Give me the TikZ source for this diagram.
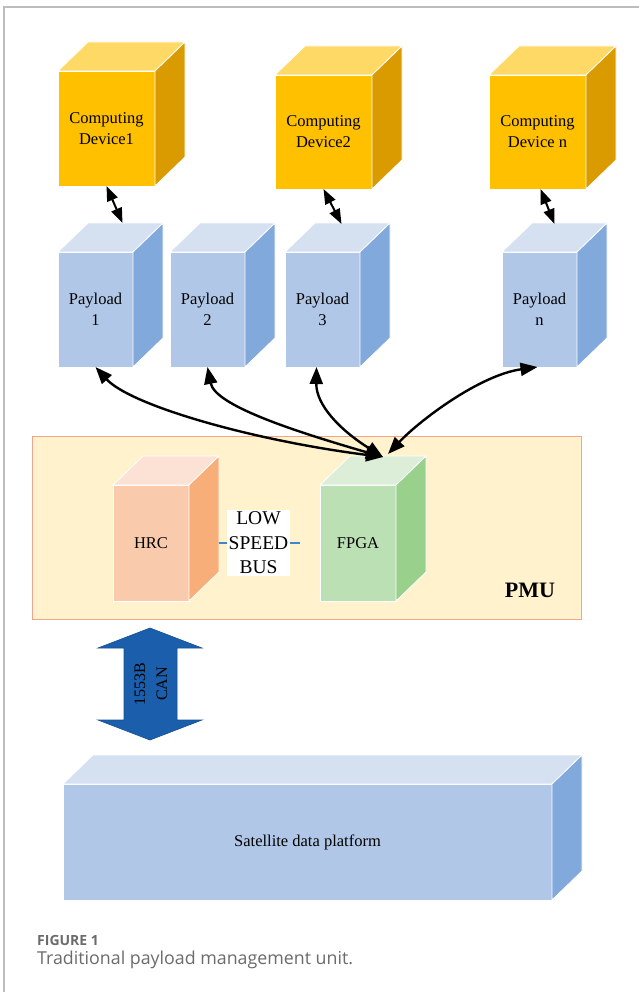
\documentclass[tikz,border=0pt]{standalone}
\usepackage{fontspec}
\setmainfont{Liberation Serif}
\newfontfamily\capfont{Open Sans}
\usetikzlibrary{arrows.meta,calc}

\definecolor{devfront}{HTML}{FFC000}
\definecolor{devtop}{HTML}{FFD966}
\definecolor{devside}{HTML}{D99B00}
\definecolor{plfront}{HTML}{B0C7E8}
\definecolor{pltop}{HTML}{D5E0F1}
\definecolor{plside}{HTML}{82A9DC}
\definecolor{hrcfront}{HTML}{F9CBAC}
\definecolor{hrctop}{HTML}{FCE2D4}
\definecolor{hrcside}{HTML}{F8AE78}
\definecolor{fpfront}{HTML}{BBE0B4}
\definecolor{fptop}{HTML}{DDEED8}
\definecolor{fpside}{HTML}{98D08C}
\definecolor{pmufill}{HTML}{FFF2CC}
\definecolor{pmuline}{HTML}{F4A38C}
\definecolor{busblue}{HTML}{1B5EAB}
\definecolor{linkblue}{HTML}{3B86CF}
\definecolor{framegray}{HTML}{BDBDBD}
\definecolor{capgray}{HTML}{6B6B6B}

\tikzset{
  front/.style={draw=white, line width=0.8pt, inner sep=0pt, outer sep=0pt,
    align=center, font=\fontsize{16.5}{21}\selectfont},
  facet/.style={draw=white, line width=0.8pt, line join=round},
  link/.style={line width=2.4pt,
    {Triangle[length=17pt,width=13pt]}-{Triangle[length=17pt,width=13pt]}},
  plug/.style={line width=2pt,
    {Triangle[length=15pt,width=11pt]}-{Triangle[length=15pt,width=11pt]}},
  busline/.style={linkblue, line width=1.2pt},
}

% 3-D block: name, x, y (front top-left), width, height, front, top, side colours, text
\newcommand{\solidbox}[9]{%
  \node[front, fill=#6, minimum width=#4pt, minimum height=#5pt, anchor=north west] (#1) at (#2,#3) {#9};
  \filldraw[facet, fill=#7] (#1.north west) -- ++(30,-29) -- ++(#4,0) -- (#1.north east) -- cycle;
  \filldraw[facet, fill=#8] (#1.north east) -- ++(30,-29) -- ++(0,#5) -- (#1.south east) -- cycle;
}

\begin{document}
\begin{tikzpicture}[x=1pt,y=-1pt]
\useasboundingbox (0,0) rectangle (639,992);
\fill[white] (0,0) rectangle (639,992);

% page frame
\draw[framegray, line width=1.3pt] (639,7) -- (4,7) -- (4,992);

% computing devices
\solidbox{dev1}{58}{71}{97}{115}{devfront}{devtop}{devside}{Computing\\Device1}
\solidbox{dev2}{275}{75}{97}{114}{devfront}{devtop}{devside}{Computing\\Device2}
\solidbox{devn}{489}{75}{97}{114}{devfront}{devtop}{devside}{Computing\\Device n}

% payloads
\solidbox{p1}{58}{252}{75}{115}{plfront}{pltop}{plside}{Payload\\1}
\solidbox{p2}{170}{252}{75}{115}{plfront}{pltop}{plside}{Payload\\2}
\solidbox{p3}{285}{252}{75}{115}{plfront}{pltop}{plside}{Payload\\3}
\solidbox{pn}{502}{252}{75}{115}{plfront}{pltop}{plside}{Payload\\n}

% payload management unit
\node[draw=pmuline, fill=pmufill, line width=0.8pt, minimum width=549pt,
      minimum height=183pt, anchor=north west, inner sep=0pt] (pmu) at (32,436) {};
\node[font=\bfseries\fontsize{22}{26}\selectfont] (pmulabel) at (530,590) {PMU};

\solidbox{hrc}{113}{485}{76}{116}{hrcfront}{hrctop}{hrcside}{HRC}
\solidbox{fpga}{320}{485}{76}{116}{fpfront}{fptop}{fpside}{FPGA}

% low speed bus between HRC and FPGA
\coordinate (hrcport) at ($(hrc.east)+(30,0)$);
\coordinate (fpgaport) at ($(fpga.west)+(-20,0)$);
\draw[busline] (hrcport) -- (fpgaport);
\node[fill=white, align=center, inner sep=1.8pt,
      font=\fontsize{19.5}{24.5}\selectfont] (lsb) at ($(hrcport)!0.5!(fpgaport)+(-1,0)$) {LOW\\SPEED\\BUS};

% satellite platform
\solidbox{sat}{63}{784}{489}{116}{plfront}{pltop}{plside}{Satellite data platform}

% 1553B / CAN bus arrow
\filldraw[fill=busblue, draw=busblue!85!black, line width=0.6pt]
  (150,628) -- (202,648) -- (177,648) -- (177,720) -- (202,720) -- (150,740)
  -- (98,720) -- (124,720) -- (124,648) -- (98,648) -- cycle;
\node[rotate=90, align=center, font=\fontsize{16}{22}\selectfont] (buslabel) at (151,684) {1553B\\CAN};

% device <-> payload links
\draw[plug] (dev1.south) -- ($(p1.north)+(27,-29)$);
\draw[plug] (dev2.south) -- ($(p3.north)+(19,-28)$);
\draw[plug] ($(devn.south)+(3,0)$) -- ($(pn.north)+(15,-28)$);

% payload <-> FPGA links
\coordinate (fpgatop) at ($(fpga.north)+(25,-28)$);
\coordinate (fpgatopn) at ($(fpga.north)+(30,-31)$);
\draw[link] (p1.south) .. controls (130,405) and (250,440) .. (fpgatop);
\draw[link] (p2.south) .. controls (215,405) and (290,430) .. (fpgatop);
\draw[link] ($(p3.south)+(-6,0)$) .. controls (316,405) and (340,430) .. (fpgatop);
\draw[link] ($(pn.south)+(-2,0)$) .. controls (480,375) and (420,420) .. (fpgatopn);

% caption
\node[anchor=base west, inner sep=0pt, text=capgray,
      font=\capfont\bfseries\fontsize{14}{16}\selectfont] (figno) at (37,945) {FIGURE 1};
\node[anchor=base west, inner sep=0pt, text=capgray,
      font=\capfont\fontsize{17.8}{20}\selectfont] (figcap) at (37,964) {Traditional payload management unit.};
\end{tikzpicture}
\end{document}
